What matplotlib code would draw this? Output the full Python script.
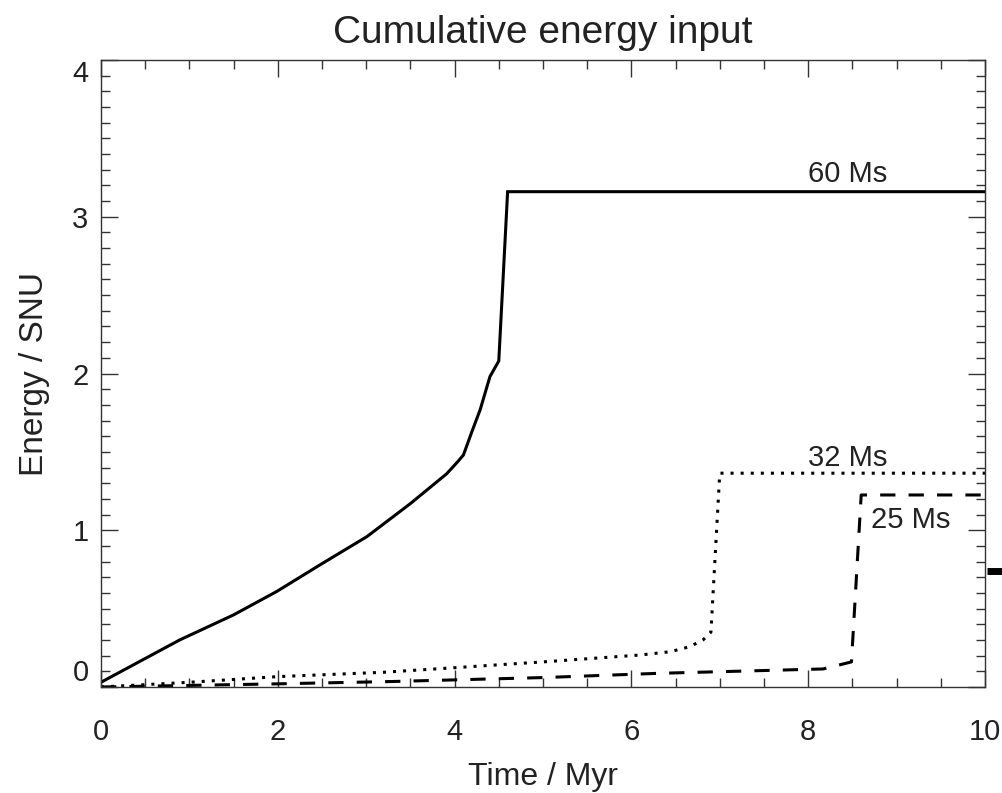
import matplotlib
matplotlib.use("Agg")
import matplotlib.pyplot as plt
from matplotlib.ticker import MultipleLocator

plt.rcParams['font.family'] = ['Liberation Sans', 'DejaVu Sans']

# 60 Ms (solid)
t60 = [0.0, 0.89, 1.50, 1.99, 2.48, 3.01, 3.50, 3.91, 4.04, 4.10, 4.19, 4.29, 4.40, 4.50, 4.60, 10.0]
e60 = [0.03, 0.30, 0.46, 0.61, 0.78, 0.96, 1.17, 1.36, 1.44, 1.48, 1.62, 1.77, 1.98, 2.08, 3.16, 3.16]
# 32 Ms (dotted)
t32 = [0.0, 1.0, 2.0, 3.2, 4.0, 5.0, 6.1, 6.44, 6.66, 6.81, 6.90, 7.00, 10.0]
e32 = [0.0, 0.03, 0.066, 0.094, 0.123, 0.16, 0.204, 0.225, 0.257, 0.30, 0.35, 1.364, 1.364]
# 25 Ms (dashed)
t25 = [0.0, 2.0, 3.3, 5.0, 6.3, 8.17, 8.49, 8.60, 10.0]
e25 = [0.0, 0.02, 0.035, 0.06, 0.087, 0.115, 0.16, 1.225, 1.225]

labels = ["60 Ms", "32 Ms", "25 Ms"]
label_x = [8.45, 8.45, 9.16]
label_y = [3.27, 1.46, 1.066]

fig = plt.figure(figsize=(10.03, 7.93), dpi=100)
ax = fig.add_axes([0.1007, 0.1337, 0.8813, 0.7906])

ax.plot(t60, e60, color='black', lw=2.2, solid_joinstyle='miter')
ax.plot(t32, e32, color='black', lw=2.2, linestyle=(0, (1, 2.3)))
ax.plot(t25, e25, color='black', lw=2.2, linestyle=(0, (5, 4.3)))

for s, x, y in zip(labels, label_x, label_y):
    ax.text(x, y, s, fontsize=21, ha='center', va='center', color='#222222')

# stray mark outside right edge
ax.plot([10.02, 10.3], [0.737, 0.737], color='black', lw=5, clip_on=False,
        solid_capstyle='butt')

ax.set_xlim(0, 10)
ax.set_ylim(0, 4)
ax.xaxis.set_major_locator(MultipleLocator(2))
ax.xaxis.set_minor_locator(MultipleLocator(0.5))
ax.yaxis.set_major_locator(MultipleLocator(1))
ax.yaxis.set_minor_locator(MultipleLocator(0.1))
ax.tick_params(which='both', direction='in', top=True, right=True, color='#333333',
               width=1.0, labelsize=21, labelcolor='#222222')
ax.tick_params(which='major', length=12)
ax.tick_params(which='minor', length=6.5)
ax.tick_params(axis='x', pad=22)
ax.tick_params(axis='y', pad=9)
for sp in ax.spines.values():
    sp.set_color('#333333')
    sp.set_linewidth(1.0)

ax.set_xlabel("Time / Myr", fontsize=23, color='#222222', labelpad=12)
ax.set_ylabel("Energy / SNU", fontsize=24, color='#222222', labelpad=16)
ax.set_title("Cumulative energy input", fontsize=28, color='#222222', pad=12)

fig.canvas.draw()
yl = ax.get_yticklabels()
for lab in yl:
    if lab.get_text() == '0':
        lab.set_va('bottom')
    elif lab.get_text() == '4':
        lab.set_va('top')

fig.savefig("out.png", dpi=100)
